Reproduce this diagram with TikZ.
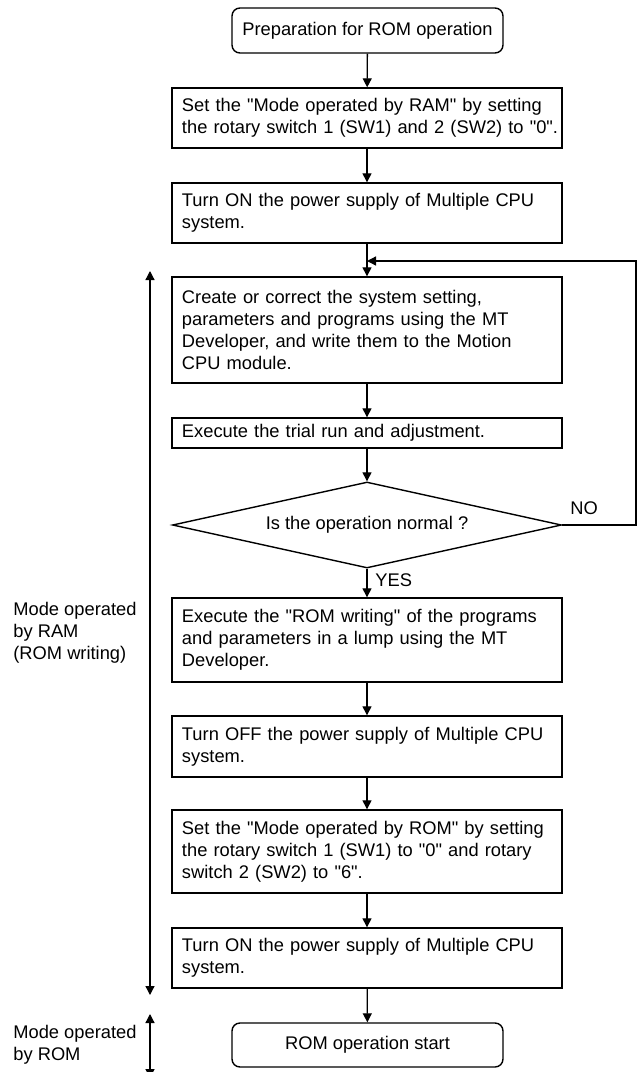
\documentclass[tikz,border=0pt]{standalone}
\usepackage{fontspec}
\setmainfont{Liberation Sans}[Ligatures=TeXOff]
\usetikzlibrary{arrows.meta,shapes.geometric}
\tikzset{
  % --- generic nodes ---------------------------------------------------
  base/.style    ={draw, line width=0.7bp, inner sep=0pt, text=black,
                   font=\fontsize{9.15bp}{11bp}\selectfont},
  term/.style    ={base, rounded corners=4bp, align=center,
                   minimum width=135.5bp, minimum height=22.5bp},   % start / end
  stepbox/.style ={base, text width=185bp, inner xsep=5bp, align=left},
  decision/.style={base, diamond, aspect=4.52, align=center,
                   minimum width=194.5bp, minimum height=43bp},
  % --- arrows ----------------------------------------------------------
  arrow/.style   ={-{Triangle[length=4.5bp,width=4.5bp]}, line width=0.65bp},
  span/.style    ={{Triangle[length=4.5bp,width=4.5bp]}-{Triangle[length=4.5bp,width=4.5bp]},
                   line width=0.65bp},
  % --- annotation ------------------------------------------------------
  lab/.style     ={font=\fontsize{9.15bp}{11bp}\selectfont, inner sep=0pt},
  side/.style    ={lab, align=left, anchor=west},
}

\begin{document}
\begin{tikzpicture}[x=0.5bp, y=-0.5bp]
  \useasboundingbox (0,0) rectangle (637,1072);

  % ============================= main column =============================
  \node[term] (start) at (367.5,30.5) {Preparation for ROM operation};
  \node[stepbox, minimum height=30bp] (setram) at (367,118)
    {Set the "Mode operated by RAM" by setting\\\mbox{the rotary switch 1 (SW1) and 2 (SW2) to "0".}};
  \node[stepbox, minimum height=30bp] (pwron) at (367,213)
    {Turn ON the power supply of Multiple CPU\\system.};
  \node[stepbox, minimum height=53bp] (create) at (367,330)
    {Create or correct the system setting,\\parameters and programs using the MT\\Developer, and write them to the Motion\\CPU module.};
  \node[stepbox, minimum height=15bp] (trial) at (367,433)
    {Execute the trial run and adjustment.};
  \node[decision] (check) at (367,525) {Is the operation normal ?};
  \node[stepbox, minimum height=42bp] (romwr) at (367,640)
    {Execute the "ROM writing" of the programs\\and parameters in a lump using the MT\\Developer.};
  \node[stepbox, minimum height=30.5bp] (pwroff) at (367,746.5)
    {Turn OFF the power supply of Multiple CPU\\system.};
  \node[stepbox, minimum height=41.5bp] (setrom) at (367,851.5)
    {Set the "Mode operated by ROM" by setting\\the rotary switch 1 (SW1) to "0" and rotary\\switch 2 (SW2) to "6".};
  \node[stepbox, minimum height=30bp] (pwron2) at (367,958)
    {Turn ON the power supply of Multiple CPU\\system.};
  \node[term, minimum height=22bp] (finish) at (367.5,1045) {ROM operation start};

  % ----- branch labels -----
  \node[lab, anchor=west] (yes) at (375,580) {YES};
  \node[lab, anchor=west] (no)  at (570,508) {NO};

  % ----- loop-back points -----
  \coordinate (join) at (367,261);
  \coordinate (edge) at (636,261);

  % ============================= side spans =============================
  \coordinate (ramtop) at (150,271);
  \coordinate (ramend) at (150,995);
  \coordinate (romtop) at (150,1014);
  \coordinate (romend) at (150,1078);
  \node[side] (ramlab) at (13,633) {Mode operated\\by RAM\\(ROM writing)};
  \node[side] (romlab) at (13,1045) {Mode operated\\by ROM};

  % ============================= edges =============================
  \draw[arrow] (start)  -- (setram);
  \draw[arrow] (setram) -- (pwron);
  \draw[arrow] (pwron)  -- (create);
  \draw[arrow] (create) -- (trial);
  \draw[arrow] (trial)  -- (check);
  \draw[arrow] (check)  -- (romwr);
  \draw[arrow] (romwr)  -- (pwroff);
  \draw[arrow] (pwroff) -- (setrom);
  \draw[arrow] (setrom) -- (pwron2);
  \draw[arrow] (pwron2) -- (finish);
  % NO: back to the programming step
  \draw[arrow] (check.east) -| (edge) -- (join);
  % mode spans
  \draw[span] (ramtop) -- (ramend);
  \draw[span] (romtop) -- (romend);

\end{tikzpicture}
\end{document}
